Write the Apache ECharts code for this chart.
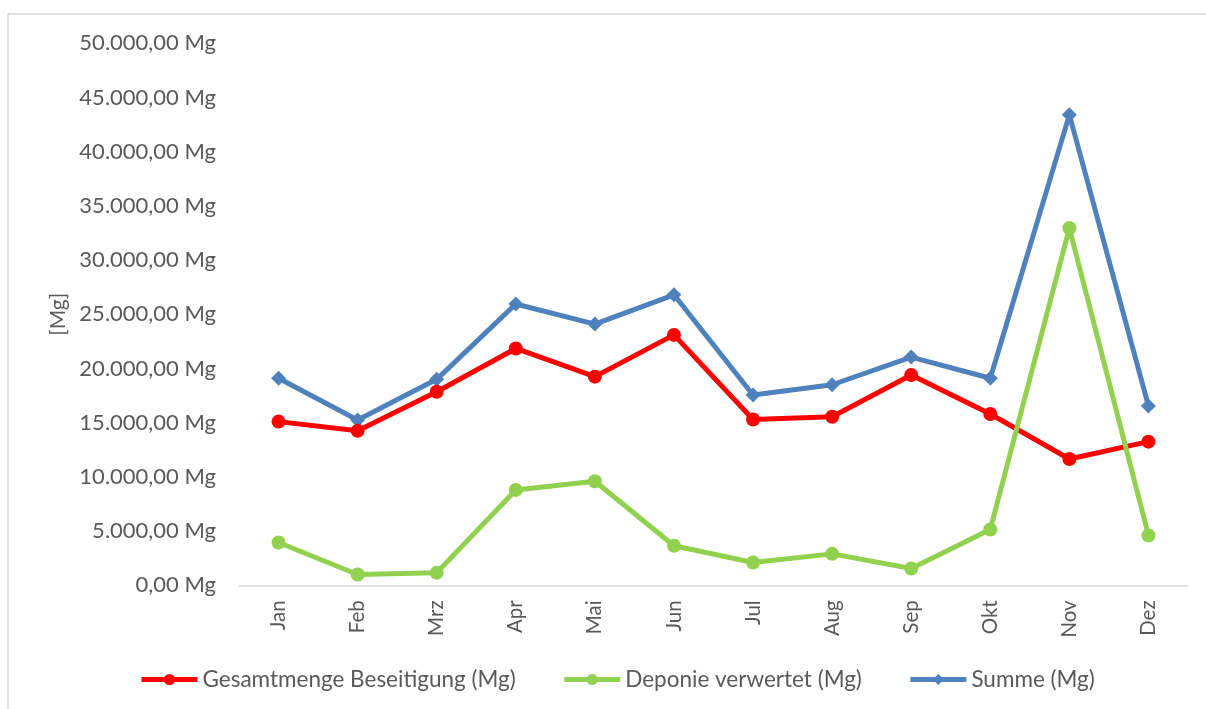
<!DOCTYPE html>
<html>
<head>
<meta charset="utf-8">
<script src="https://cdn.jsdelivr.net/npm/echarts@6/dist/echarts.min.js"></script>
<style>
  html, body { margin: 0; padding: 0; background: #ffffff; }
  #chart { width: 1206px; height: 709px; }
</style>
</head>
<body>
<div id="chart"></div>
<script>
// Monatskategorien
const months = ['Jan', 'Feb', 'Mrz', 'Apr', 'Mai', 'Jun', 'Jul', 'Aug', 'Sep', 'Okt', 'Nov', 'Dez'];

// Mengen in Mg je Monat
const gesamtBeseitigung = [15100, 14250, 17850, 21850, 19250, 23100, 15300, 15550, 19400, 15800, 11650, 13250];
const deponieVerwertet  = [3950, 1000, 1150, 8800, 9600, 3650, 2100, 2900, 1550, 5150, 32950, 4600];
const summe             = [19100, 15250, 19000, 25950, 24100, 26800, 17550, 18500, 21050, 19100, 43400, 16550];

// Achsenteilung
const yMin = 0;
const yMax = 50000;
const yStep = 5000;

const seriesNames = ['Gesamtmenge Beseitigung (Mg)', 'Deponie verwertet (Mg)', 'Summe (Mg)'];
const FONT = 'Lato, "Open Sans", sans-serif';
const TEXT = '#595959';

// Deutsche Zahlendarstellung: 50.000,00 Mg
function formatMg(v) {
  const parts = Number(v).toFixed(2).split('.');
  const intPart = parts[0].replace(/\B(?=(\d{3})+(?!\d))/g, '.');
  return intPart + ',' + parts[1] + ' Mg';
}

const chart = echarts.init(document.getElementById('chart'), null, { renderer: 'canvas' });

chart.setOption({
  backgroundColor: '#ffffff',
  animation: false,
  graphic: [{
    type: 'rect',
    shape: { x: 8, y: 14, width: 1230, height: 730 },
    style: { fill: 'none', stroke: '#d9d9d9', lineWidth: 1.5 },
    silent: true
  }],
  grid: { left: 239, right: 18, top: 43.3, bottom: 123.7, containLabel: false },
  legend: {
    left: 139,
    top: 668,
    padding: 0,
    itemWidth: 56,
    itemHeight: 14,
    itemGap: 46,
    lineStyle: { width: 5 },
    textStyle: { fontFamily: FONT, fontSize: 22.5, color: TEXT },
    data: seriesNames
  },
  xAxis: {
    type: 'category',
    data: months,
    boundaryGap: true,
    axisLine: { lineStyle: { color: '#d9d9d9', width: 1.5 } },
    axisTick: { show: false },
    axisLabel: {
      rotate: 90,
      margin: 15,
      fontFamily: FONT,
      fontSize: 20.5,
      color: TEXT
    },
    splitLine: { show: false }
  },
  yAxis: {
    type: 'value',
    min: yMin,
    max: yMax,
    interval: yStep,
    name: '[Mg]',
    nameLocation: 'middle',
    nameGap: 170,
    nameRotate: 90,
    nameTextStyle: { fontFamily: FONT, fontSize: 21, color: TEXT },
    axisLine: { show: false },
    axisTick: { show: false },
    splitLine: { show: false },
    axisLabel: {
      margin: 23,
      fontFamily: FONT,
      fontSize: 22,
      color: TEXT,
      formatter: formatMg
    }
  },
  series: [
    {
      name: seriesNames[0],
      type: 'line',
      data: gesamtBeseitigung,
      symbol: 'circle',
      symbolSize: 14,
      lineStyle: { color: '#ff0000', width: 5 },
      itemStyle: { color: '#ff0000' },
      z: 3
    },
    {
      name: seriesNames[1],
      type: 'line',
      data: deponieVerwertet,
      symbol: 'circle',
      symbolSize: 14,
      lineStyle: { color: '#92d050', width: 5 },
      itemStyle: { color: '#92d050' },
      z: 4
    },
    {
      name: seriesNames[2],
      type: 'line',
      data: summe,
      symbol: 'diamond',
      symbolSize: 15,
      lineStyle: { color: '#4f81bd', width: 5 },
      itemStyle: { color: '#4f81bd' },
      z: 2
    }
  ]
});
</script>
</body>
</html>
